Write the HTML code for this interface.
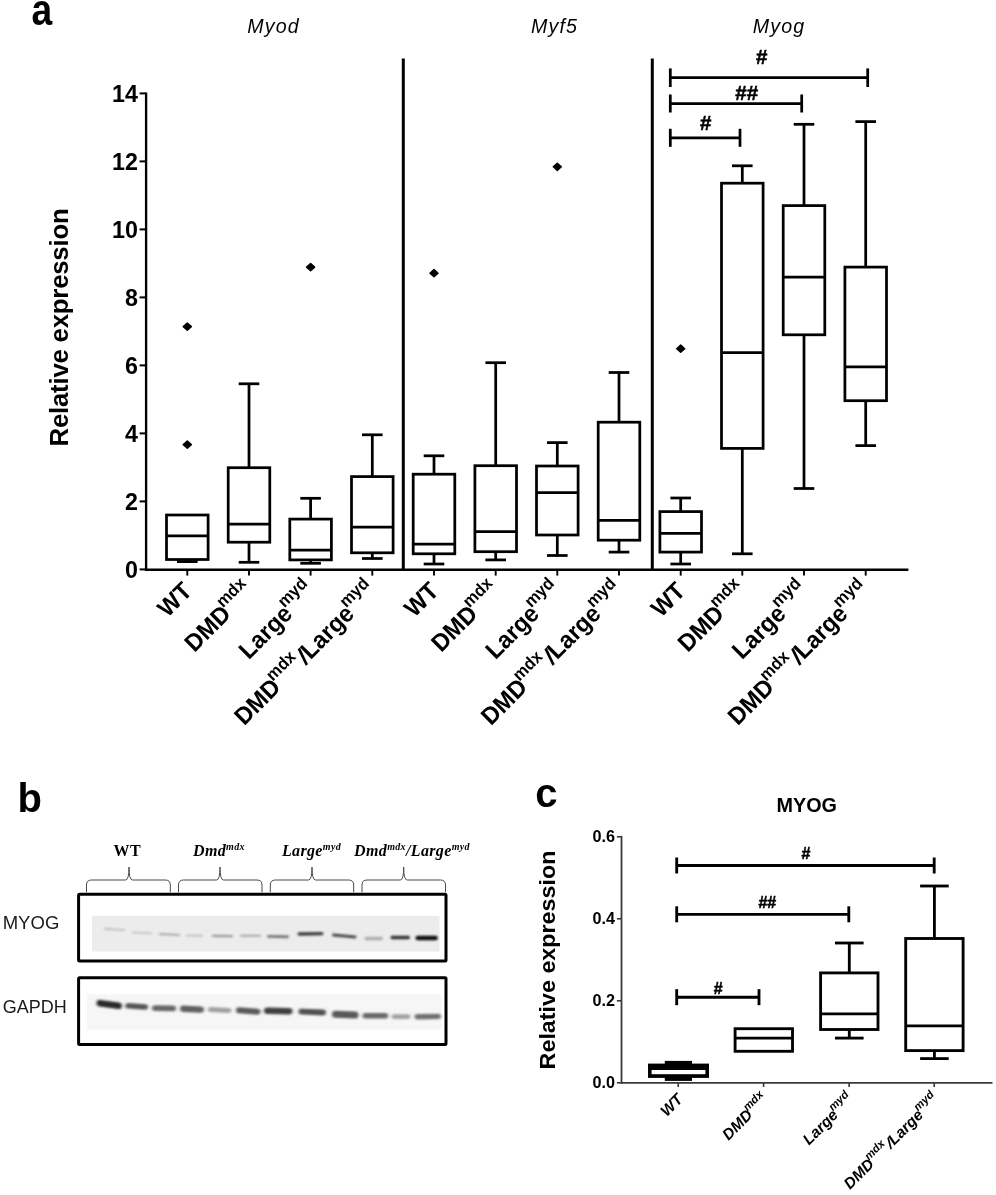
<!DOCTYPE html>
<html><head><meta charset="utf-8"><title>Figure</title>
<style>
html,body{margin:0;padding:0;background:#fff;}
body{width:996px;height:1195px;overflow:hidden;font-family:"Liberation Sans", sans-serif;}
svg{display:block;filter:blur(0.55px);}
</style></head><body>
<svg width="996" height="1195" viewBox="0 0 996 1195">
<rect width="996" height="1195" fill="#fff"/>
<g stroke="#000" stroke-width="2.75" fill="none" stroke-linecap="butt">
<line x1="146.1" y1="92.4" x2="146.1" y2="570.8" stroke-width="2.35"/>
<line x1="144.9" y1="569.7" x2="908.4" y2="569.7" stroke-width="2.35"/>
<line x1="139.6" y1="569.4" x2="146.1" y2="569.4" stroke-width="2.0"/>
<line x1="139.6" y1="501.4" x2="146.1" y2="501.4" stroke-width="2.0"/>
<line x1="139.6" y1="433.4" x2="146.1" y2="433.4" stroke-width="2.0"/>
<line x1="139.6" y1="365.4" x2="146.1" y2="365.4" stroke-width="2.0"/>
<line x1="139.6" y1="297.4" x2="146.1" y2="297.4" stroke-width="2.0"/>
<line x1="139.6" y1="229.4" x2="146.1" y2="229.4" stroke-width="2.0"/>
<line x1="139.6" y1="161.4" x2="146.1" y2="161.4" stroke-width="2.0"/>
<line x1="139.6" y1="93.4" x2="146.1" y2="93.4" stroke-width="2.0"/>
<line x1="187.3" y1="569.4" x2="187.3" y2="575.6" stroke-width="1.9"/>
<line x1="249.0" y1="569.4" x2="249.0" y2="575.6" stroke-width="1.9"/>
<line x1="310.6" y1="569.4" x2="310.6" y2="575.6" stroke-width="1.9"/>
<line x1="372.3" y1="569.4" x2="372.3" y2="575.6" stroke-width="1.9"/>
<line x1="434.0" y1="569.4" x2="434.0" y2="575.6" stroke-width="1.9"/>
<line x1="495.7" y1="569.4" x2="495.7" y2="575.6" stroke-width="1.9"/>
<line x1="557.3" y1="569.4" x2="557.3" y2="575.6" stroke-width="1.9"/>
<line x1="619.0" y1="569.4" x2="619.0" y2="575.6" stroke-width="1.9"/>
<line x1="680.7" y1="569.4" x2="680.7" y2="575.6" stroke-width="1.9"/>
<line x1="742.3" y1="569.4" x2="742.3" y2="575.6" stroke-width="1.9"/>
<line x1="804.0" y1="569.4" x2="804.0" y2="575.6" stroke-width="1.9"/>
<line x1="865.7" y1="569.4" x2="865.7" y2="575.6" stroke-width="1.9"/>
<line x1="403.3" y1="58.5" x2="403.3" y2="569.4" stroke-width="3.0"/>
<line x1="652.3" y1="58.5" x2="652.3" y2="569.4" stroke-width="3.0"/>
</g>
<g stroke="#000" stroke-width="2.75" fill="none">
<rect x="166.5" y="515.0" width="41.6" height="44.5"/>
<line x1="166.5" y1="535.9" x2="208.1" y2="535.9"/>
<line x1="187.3" y1="559.5" x2="187.3" y2="561.6"/>
<line x1="177.0" y1="561.6" x2="197.6" y2="561.6"/>
<rect x="228.2" y="467.7" width="41.6" height="74.5"/>
<line x1="228.2" y1="524.2" x2="269.8" y2="524.2"/>
<line x1="249.0" y1="542.2" x2="249.0" y2="562.3"/>
<line x1="238.7" y1="562.3" x2="259.3" y2="562.3"/>
<line x1="249.0" y1="467.7" x2="249.0" y2="383.8"/>
<line x1="238.7" y1="383.8" x2="259.3" y2="383.8"/>
<rect x="289.8" y="519.1" width="41.6" height="40.8"/>
<line x1="289.8" y1="550.0" x2="331.4" y2="550.0"/>
<line x1="310.6" y1="559.9" x2="310.6" y2="563.3"/>
<line x1="300.3" y1="563.3" x2="320.9" y2="563.3"/>
<line x1="310.6" y1="519.1" x2="310.6" y2="498.3"/>
<line x1="300.3" y1="498.3" x2="320.9" y2="498.3"/>
<rect x="351.5" y="476.6" width="41.6" height="76.2"/>
<line x1="351.5" y1="527.2" x2="393.1" y2="527.2"/>
<line x1="372.3" y1="552.7" x2="372.3" y2="558.5"/>
<line x1="362.0" y1="558.5" x2="382.6" y2="558.5"/>
<line x1="372.3" y1="476.6" x2="372.3" y2="434.8"/>
<line x1="362.0" y1="434.8" x2="382.6" y2="434.8"/>
<rect x="413.2" y="474.2" width="41.6" height="79.6"/>
<line x1="413.2" y1="544.2" x2="454.8" y2="544.2"/>
<line x1="434.0" y1="553.8" x2="434.0" y2="564.0"/>
<line x1="423.7" y1="564.0" x2="444.3" y2="564.0"/>
<line x1="434.0" y1="474.2" x2="434.0" y2="455.8"/>
<line x1="423.7" y1="455.8" x2="444.3" y2="455.8"/>
<rect x="474.9" y="465.7" width="41.6" height="86.0"/>
<line x1="474.9" y1="531.7" x2="516.5" y2="531.7"/>
<line x1="495.7" y1="551.7" x2="495.7" y2="559.9"/>
<line x1="485.4" y1="559.9" x2="506.0" y2="559.9"/>
<line x1="495.7" y1="465.7" x2="495.7" y2="362.7"/>
<line x1="485.4" y1="362.7" x2="506.0" y2="362.7"/>
<rect x="536.5" y="466.0" width="41.6" height="69.0"/>
<line x1="536.5" y1="492.6" x2="578.1" y2="492.6"/>
<line x1="557.3" y1="535.1" x2="557.3" y2="555.5"/>
<line x1="547.0" y1="555.5" x2="567.6" y2="555.5"/>
<line x1="557.3" y1="466.0" x2="557.3" y2="442.6"/>
<line x1="547.0" y1="442.6" x2="567.6" y2="442.6"/>
<rect x="598.2" y="422.2" width="41.6" height="118.0"/>
<line x1="598.2" y1="520.4" x2="639.8" y2="520.4"/>
<line x1="619.0" y1="540.2" x2="619.0" y2="552.1"/>
<line x1="608.7" y1="552.1" x2="629.3" y2="552.1"/>
<line x1="619.0" y1="422.2" x2="619.0" y2="372.5"/>
<line x1="608.7" y1="372.5" x2="629.3" y2="372.5"/>
<rect x="659.9" y="511.6" width="41.6" height="40.5"/>
<line x1="659.9" y1="533.4" x2="701.5" y2="533.4"/>
<line x1="680.7" y1="552.1" x2="680.7" y2="564.0"/>
<line x1="670.4" y1="564.0" x2="691.0" y2="564.0"/>
<line x1="680.7" y1="511.6" x2="680.7" y2="498.0"/>
<line x1="670.4" y1="498.0" x2="691.0" y2="498.0"/>
<rect x="721.5" y="183.2" width="41.6" height="265.2"/>
<line x1="721.5" y1="352.5" x2="763.1" y2="352.5"/>
<line x1="742.3" y1="448.4" x2="742.3" y2="553.8"/>
<line x1="732.0" y1="553.8" x2="752.6" y2="553.8"/>
<line x1="742.3" y1="183.2" x2="742.3" y2="165.8"/>
<line x1="732.0" y1="165.8" x2="752.6" y2="165.8"/>
<rect x="783.2" y="205.6" width="41.6" height="129.2"/>
<line x1="783.2" y1="277.0" x2="824.8" y2="277.0"/>
<line x1="804.0" y1="334.8" x2="804.0" y2="488.5"/>
<line x1="793.7" y1="488.5" x2="814.3" y2="488.5"/>
<line x1="804.0" y1="205.6" x2="804.0" y2="124.3"/>
<line x1="793.7" y1="124.3" x2="814.3" y2="124.3"/>
<rect x="844.9" y="267.1" width="41.6" height="133.6"/>
<line x1="844.9" y1="366.8" x2="886.5" y2="366.8"/>
<line x1="865.7" y1="400.8" x2="865.7" y2="445.6"/>
<line x1="855.4" y1="445.6" x2="876.0" y2="445.6"/>
<line x1="865.7" y1="267.1" x2="865.7" y2="121.6"/>
<line x1="855.4" y1="121.6" x2="876.0" y2="121.6"/>
</g>
<g fill="#000" stroke="#000" stroke-width="1.5" stroke-linejoin="round">
<path d="M183.3 444.6 L187.3 441.0 L191.3 444.6 L187.3 448.2Z"/>
<path d="M183.3 326.6 L187.3 323.0 L191.3 326.6 L187.3 330.2Z"/>
<path d="M306.6 267.1 L310.6 263.5 L314.6 267.1 L310.6 270.7Z"/>
<path d="M430.0 273.2 L434.0 269.6 L438.0 273.2 L434.0 276.8Z"/>
<path d="M553.3 166.8 L557.3 163.2 L561.3 166.8 L557.3 170.4Z"/>
<path d="M676.7 348.7 L680.7 345.1 L684.7 348.7 L680.7 352.3Z"/>
</g>
<g stroke="#000" stroke-width="2.75" fill="none">
<line x1="670.3" y1="77.7" x2="867.7" y2="77.7"/>
<line x1="670.3" y1="68.4" x2="670.3" y2="87.0"/>
<line x1="867.7" y1="68.4" x2="867.7" y2="87.0"/>
</g>
<text x="761.7" y="64.3" font-family='"Liberation Sans", sans-serif' font-weight="bold" font-size="20.5" text-anchor="middle" fill="#000" stroke="#000" stroke-width="0.5">#</text>
<g stroke="#000" stroke-width="2.75" fill="none">
<line x1="670.3" y1="103.5" x2="801.7" y2="103.5"/>
<line x1="670.3" y1="94.5" x2="670.3" y2="112.5"/>
<line x1="801.7" y1="94.5" x2="801.7" y2="112.5"/>
</g>
<text x="746.7" y="100.1" font-family='"Liberation Sans", sans-serif' font-weight="bold" font-size="20.5" text-anchor="middle" fill="#000" stroke="#000" stroke-width="0.5">##</text>
<g stroke="#000" stroke-width="2.75" fill="none">
<line x1="670.3" y1="137.8" x2="740.0" y2="137.8"/>
<line x1="670.3" y1="128.8" x2="670.3" y2="146.8"/>
<line x1="740.0" y1="128.8" x2="740.0" y2="146.8"/>
</g>
<text x="705.7" y="129.6" font-family='"Liberation Sans", sans-serif' font-weight="bold" font-size="20.5" text-anchor="middle" fill="#000" stroke="#000" stroke-width="0.5">#</text>
<text transform="translate(137.9,578.0) scale(0.955,1)" font-family='"Liberation Sans", sans-serif' font-weight="bold" font-size="24.4" text-anchor="end" fill="#000">0</text>
<text transform="translate(137.9,510.0) scale(0.955,1)" font-family='"Liberation Sans", sans-serif' font-weight="bold" font-size="24.4" text-anchor="end" fill="#000">2</text>
<text transform="translate(137.9,442.0) scale(0.955,1)" font-family='"Liberation Sans", sans-serif' font-weight="bold" font-size="24.4" text-anchor="end" fill="#000">4</text>
<text transform="translate(137.9,374.0) scale(0.955,1)" font-family='"Liberation Sans", sans-serif' font-weight="bold" font-size="24.4" text-anchor="end" fill="#000">6</text>
<text transform="translate(137.9,306.0) scale(0.955,1)" font-family='"Liberation Sans", sans-serif' font-weight="bold" font-size="24.4" text-anchor="end" fill="#000">8</text>
<text transform="translate(137.9,238.0) scale(0.955,1)" font-family='"Liberation Sans", sans-serif' font-weight="bold" font-size="24.4" text-anchor="end" fill="#000">10</text>
<text transform="translate(137.9,170.0) scale(0.955,1)" font-family='"Liberation Sans", sans-serif' font-weight="bold" font-size="24.4" text-anchor="end" fill="#000">12</text>
<text transform="translate(137.9,102.0) scale(0.955,1)" font-family='"Liberation Sans", sans-serif' font-weight="bold" font-size="24.4" text-anchor="end" fill="#000">14</text>
<text transform="translate(67.9,327.5) rotate(-90)" font-family='"Liberation Sans", sans-serif' font-weight="bold" font-size="25.8" letter-spacing="-0.23" text-anchor="middle" fill="#000">Relative expression</text>
<text x="273.5" y="32.7" font-family='"Liberation Sans", sans-serif' font-style="italic" font-size="19.6" letter-spacing="1.1" text-anchor="middle" fill="#000">Myod</text>
<text x="554.5" y="32.7" font-family='"Liberation Sans", sans-serif' font-style="italic" font-size="19.6" letter-spacing="1.1" text-anchor="middle" fill="#000">Myf5</text>
<text x="779" y="32.7" font-family='"Liberation Sans", sans-serif' font-style="italic" font-size="19.6" letter-spacing="1.1" text-anchor="middle" fill="#000">Myog</text>
<text transform="translate(31.4,25.1) scale(0.93,1.09)" font-family='"Liberation Sans", sans-serif' font-weight="bold" font-size="40" fill="#000">a</text>
<text x="17.5" y="812.3" font-family='"Liberation Sans", sans-serif' font-weight="bold" font-size="40" fill="#000">b</text>
<text x="535.3" y="806.5" font-family='"Liberation Sans", sans-serif' font-weight="bold" font-size="40" fill="#000">c</text>
<text transform="translate(193.3,592.4) rotate(-45) scale(0.96,1)" font-family='"Liberation Sans", sans-serif' font-weight="bold" font-size="24.4" text-anchor="end" fill="#000">WT</text>
<text transform="translate(255.0,592.4) rotate(-45) scale(0.96,1)" font-family='"Liberation Sans", sans-serif' font-weight="bold" font-size="24.4" text-anchor="end" fill="#000">DMD<tspan dy="-11.5" dx="-1.7" font-size="17.2">mdx</tspan></text>
<text transform="translate(316.6,592.4) rotate(-45) scale(0.96,1)" font-family='"Liberation Sans", sans-serif' font-weight="bold" font-size="24.4" text-anchor="end" fill="#000">Large<tspan dy="-11.5" dx="-1.7" font-size="17.2">myd</tspan></text>
<text transform="translate(378.3,592.4) rotate(-45) scale(0.96,1)" font-family='"Liberation Sans", sans-serif' font-weight="bold" font-size="24.4" text-anchor="end" fill="#000">DMD<tspan dy="-11.5" dx="-1.7" font-size="17.2">mdx</tspan><tspan dy="11.5" dx="0.5" rotate="9">/</tspan><tspan dx="0.8">Large</tspan><tspan dy="-11.5" dx="-1.7" font-size="17.2">myd</tspan></text>
<text transform="translate(440.0,592.4) rotate(-45) scale(0.96,1)" font-family='"Liberation Sans", sans-serif' font-weight="bold" font-size="24.4" text-anchor="end" fill="#000">WT</text>
<text transform="translate(501.7,592.4) rotate(-45) scale(0.96,1)" font-family='"Liberation Sans", sans-serif' font-weight="bold" font-size="24.4" text-anchor="end" fill="#000">DMD<tspan dy="-11.5" dx="-1.7" font-size="17.2">mdx</tspan></text>
<text transform="translate(563.3,592.4) rotate(-45) scale(0.96,1)" font-family='"Liberation Sans", sans-serif' font-weight="bold" font-size="24.4" text-anchor="end" fill="#000">Large<tspan dy="-11.5" dx="-1.7" font-size="17.2">myd</tspan></text>
<text transform="translate(625.0,592.4) rotate(-45) scale(0.96,1)" font-family='"Liberation Sans", sans-serif' font-weight="bold" font-size="24.4" text-anchor="end" fill="#000">DMD<tspan dy="-11.5" dx="-1.7" font-size="17.2">mdx</tspan><tspan dy="11.5" dx="0.5" rotate="9">/</tspan><tspan dx="0.8">Large</tspan><tspan dy="-11.5" dx="-1.7" font-size="17.2">myd</tspan></text>
<text transform="translate(686.7,592.4) rotate(-45) scale(0.96,1)" font-family='"Liberation Sans", sans-serif' font-weight="bold" font-size="24.4" text-anchor="end" fill="#000">WT</text>
<text transform="translate(748.3,592.4) rotate(-45) scale(0.96,1)" font-family='"Liberation Sans", sans-serif' font-weight="bold" font-size="24.4" text-anchor="end" fill="#000">DMD<tspan dy="-11.5" dx="-1.7" font-size="17.2">mdx</tspan></text>
<text transform="translate(810.0,592.4) rotate(-45) scale(0.96,1)" font-family='"Liberation Sans", sans-serif' font-weight="bold" font-size="24.4" text-anchor="end" fill="#000">Large<tspan dy="-11.5" dx="-1.7" font-size="17.2">myd</tspan></text>
<text transform="translate(871.7,592.4) rotate(-45) scale(0.96,1)" font-family='"Liberation Sans", sans-serif' font-weight="bold" font-size="24.4" text-anchor="end" fill="#000">DMD<tspan dy="-11.5" dx="-1.7" font-size="17.2">mdx</tspan><tspan dy="11.5" dx="0.5" rotate="9">/</tspan><tspan dx="0.8">Large</tspan><tspan dy="-11.5" dx="-1.7" font-size="17.2">myd</tspan></text>
<g stroke="#3a3a3a" stroke-width="1.8" fill="none">
<line x1="621.5" y1="835.9" x2="621.5" y2="1083.7"/>
<line x1="620.6" y1="1082.8" x2="992.5" y2="1082.8"/>
<line x1="616.9" y1="1082.8" x2="621.5" y2="1082.8" stroke-width="1.6"/>
<line x1="616.9" y1="1000.8" x2="621.5" y2="1000.8" stroke-width="1.6"/>
<line x1="616.9" y1="918.8" x2="621.5" y2="918.8" stroke-width="1.6"/>
<line x1="616.9" y1="836.8" x2="621.5" y2="836.8" stroke-width="1.6"/>
<line x1="678.2" y1="1082.8" x2="678.2" y2="1087.0" stroke-width="1.6"/>
<line x1="763.6" y1="1082.8" x2="763.6" y2="1087.0" stroke-width="1.6"/>
<line x1="849.1" y1="1082.8" x2="849.1" y2="1087.0" stroke-width="1.6"/>
<line x1="934.2" y1="1082.8" x2="934.2" y2="1087.0" stroke-width="1.6"/>
</g>
<g stroke="#000" stroke-width="2.85" fill="none">
<rect x="735.1" y="1028.7" width="57.4" height="22.6"/>
<line x1="735.1" y1="1038.1" x2="792.5" y2="1038.1"/>
<rect x="820.6" y="972.9" width="57.4" height="56.6"/>
<line x1="820.6" y1="1013.9" x2="878.0" y2="1013.9"/>
<line x1="849.3" y1="1029.5" x2="849.3" y2="1038.1"/>
<line x1="835.0" y1="1038.1" x2="863.6" y2="1038.1"/>
<line x1="849.3" y1="972.9" x2="849.3" y2="943.0"/>
<line x1="835.0" y1="943.0" x2="863.6" y2="943.0"/>
<rect x="905.7" y="938.5" width="57.4" height="112.1"/>
<line x1="905.7" y1="1025.8" x2="963.1" y2="1025.8"/>
<line x1="934.4" y1="1050.6" x2="934.4" y2="1058.6"/>
<line x1="920.1" y1="1058.6" x2="948.7" y2="1058.6"/>
<line x1="934.4" y1="938.5" x2="934.4" y2="886.0"/>
<line x1="920.1" y1="886.0" x2="948.7" y2="886.0"/>
</g>
<rect x="648" y="1063.6" width="61" height="14.3" fill="#000"/>
<rect x="664.8" y="1060.9" width="27.2" height="20" fill="#000"/>
<rect x="651.6" y="1070" width="53.8" height="4.2" fill="#fff"/>
<g stroke="#000" stroke-width="2.85" fill="none">
<line x1="676.7" y1="865.5" x2="934.2" y2="865.5"/>
<line x1="676.7" y1="857.5" x2="676.7" y2="873.5"/>
<line x1="934.2" y1="857.5" x2="934.2" y2="873.5"/>
</g>
<text x="806" y="858.8" font-family='"Liberation Sans", sans-serif' font-weight="bold" font-size="16" text-anchor="middle" fill="#000" stroke="#000" stroke-width="0.5">#</text>
<g stroke="#000" stroke-width="2.85" fill="none">
<line x1="676.7" y1="914.3" x2="848.8" y2="914.3"/>
<line x1="676.7" y1="906.3" x2="676.7" y2="922.3"/>
<line x1="848.8" y1="906.3" x2="848.8" y2="922.3"/>
</g>
<text x="767.3" y="907.6" font-family='"Liberation Sans", sans-serif' font-weight="bold" font-size="16" text-anchor="middle" fill="#000" stroke="#000" stroke-width="0.5">##</text>
<g stroke="#000" stroke-width="2.85" fill="none">
<line x1="676.7" y1="997.2" x2="759.0" y2="997.2"/>
<line x1="676.7" y1="989.2" x2="676.7" y2="1005.2"/>
<line x1="759.0" y1="989.2" x2="759.0" y2="1005.2"/>
</g>
<text x="718.3" y="993.6" font-family='"Liberation Sans", sans-serif' font-weight="bold" font-size="16" text-anchor="middle" fill="#000" stroke="#000" stroke-width="0.5">#</text>
<text x="615.1" y="1088.4" font-family='"Liberation Sans", sans-serif' font-weight="bold" font-size="16.2" text-anchor="end" fill="#000">0.0</text>
<text x="615.1" y="1006.4" font-family='"Liberation Sans", sans-serif' font-weight="bold" font-size="16.2" text-anchor="end" fill="#000">0.2</text>
<text x="615.1" y="924.4" font-family='"Liberation Sans", sans-serif' font-weight="bold" font-size="16.2" text-anchor="end" fill="#000">0.4</text>
<text x="615.1" y="842.4" font-family='"Liberation Sans", sans-serif' font-weight="bold" font-size="16.2" text-anchor="end" fill="#000">0.6</text>
<text transform="translate(555.2,960) rotate(-90) scale(1.04,1)" font-family='"Liberation Sans", sans-serif' font-weight="bold" font-size="22.4" text-anchor="middle" fill="#000">Relative expression</text>
<text x="806.8" y="811.9" font-family='"Liberation Sans", sans-serif' font-weight="bold" font-size="19.8" text-anchor="middle" fill="#000">MYOG</text>
<text transform="translate(683.7,1100.3) rotate(-45) scale(1,1)" font-family='"Liberation Sans", sans-serif' font-weight="bold" font-size="15.5" font-style="italic" text-anchor="end" fill="#000">WT</text>
<text transform="translate(769.1,1100.3) rotate(-45) scale(1,1)" font-family='"Liberation Sans", sans-serif' font-weight="bold" font-size="15.5" font-style="italic" text-anchor="end" fill="#000">DMD<tspan dy="-7.3" dx="-1.1" font-size="11.3" font-style="italic">mdx</tspan></text>
<text transform="translate(854.6,1100.3) rotate(-45) scale(1,1)" font-family='"Liberation Sans", sans-serif' font-weight="bold" font-size="15.5" font-style="italic" text-anchor="end" fill="#000">Large<tspan dy="-7.3" dx="-1.1" font-size="11.3" font-style="italic">myd</tspan></text>
<text transform="translate(939.7,1100.3) rotate(-45) scale(1,1)" font-family='"Liberation Sans", sans-serif' font-weight="bold" font-size="15.5" font-style="italic" text-anchor="end" fill="#000">DMD<tspan dy="-7.3" dx="-1.1" font-size="11.3" font-style="italic">mdx</tspan><tspan dy="7.3" dx="0.3" rotate="9">/</tspan><tspan dx="0.5">Large</tspan><tspan dy="-7.3" dx="-1.1" font-size="11.3" font-style="italic">myd</tspan></text>
<g stroke="#000" stroke-width="3.0" fill="#fff">
<rect x="78.6" y="894.2" width="367.4" height="66.9" rx="1"/>
<rect x="78.6" y="977.8" width="367.4" height="66.7" rx="1"/>
</g>
<rect x="92" y="915.8" width="347.5" height="35.7" fill="#ececec"/>
<rect x="87" y="994.3" width="354.4" height="35.3" fill="#f6f6f6"/>
<defs><filter id="bl" x="-20%" y="-150%" width="140%" height="400%"><feGaussianBlur stdDeviation="1.7 1.2"/></filter><filter id="bl2" x="-20%" y="-150%" width="140%" height="400%"><feGaussianBlur stdDeviation="1.3 0.9"/></filter></defs>
<g filter="url(#bl2)">
<rect x="104" y="928.5" width="21.0" height="1.8" rx="0.9" fill="rgb(190,190,190)" transform="rotate(4 114.5 929.4)"/>
<rect x="132" y="931.9" width="20.0" height="1.8" rx="0.9" fill="rgb(194,194,194)" transform="rotate(3 142.0 932.8)"/>
<rect x="159" y="933.6" width="21.0" height="2.0" rx="1.0" fill="rgb(168,168,168)" transform="rotate(3 169.5 934.6)"/>
<rect x="186" y="934.8" width="17.0" height="1.8" rx="0.9" fill="rgb(188,188,188)" transform="rotate(0 194.5 935.7)"/>
<rect x="212" y="934.9" width="21.0" height="2.2" rx="1.1" fill="rgb(152,152,152)" transform="rotate(1 222.5 936.0)"/>
<rect x="240" y="934.7" width="21.0" height="2.0" rx="1.0" fill="rgb(166,166,166)" transform="rotate(0 250.5 935.7)"/>
<rect x="267" y="935.2" width="22.0" height="2.8" rx="1.4" fill="rgb(122,122,122)" transform="rotate(1 278.0 936.6)"/>
<rect x="297.5" y="932.1" width="26.0" height="3.4" rx="1.7" fill="rgb(60,60,60)" transform="rotate(-1 310.5 933.8)"/>
<rect x="332" y="934.5" width="24.5" height="3.0" rx="1.5" fill="rgb(76,76,76)" transform="rotate(5 344.2 936.0)"/>
<rect x="364.5" y="936.8" width="18.5" height="3.4" rx="1.7" fill="rgb(174,174,174)" transform="rotate(0 373.8 938.5)"/>
<rect x="390.5" y="935.8" width="19.5" height="3.4" rx="1.7" fill="rgb(48,48,48)" transform="rotate(0 400.2 937.5)"/>
<rect x="415.5" y="935.8" width="22.3" height="4.4" rx="2.2" fill="rgb(12,12,12)" transform="rotate(0 426.6 938.0)"/>
</g>
<g filter="url(#bl)">
<rect x="96.5" y="1001.2" width="25.5" height="6.6" rx="3.3" fill="rgb(42,42,42)" transform="rotate(8 109.2 1004.5)"/>
<rect x="125.2" y="1003.6" width="22.8" height="5.6" rx="2.8" fill="rgb(85,85,85)" transform="rotate(4 136.6 1006.4)"/>
<rect x="152" y="1005.3" width="24.0" height="5.8" rx="2.9" fill="rgb(104,104,104)" transform="rotate(1 164.0 1008.2)"/>
<rect x="180" y="1006.0" width="24.0" height="6.4" rx="3.2" fill="rgb(96,96,96)" transform="rotate(3 192.0 1009.2)"/>
<rect x="208" y="1007.4" width="23.5" height="5.2" rx="2.6" fill="rgb(160,160,160)" transform="rotate(3 219.8 1010)"/>
<rect x="236" y="1008.0" width="24.5" height="6.0" rx="3.0" fill="rgb(90,90,90)" transform="rotate(4 248.2 1011)"/>
<rect x="264" y="1007.8" width="28.5" height="6.4" rx="3.2" fill="rgb(64,64,64)" transform="rotate(1 278.2 1011)"/>
<rect x="298.5" y="1009.0" width="27.5" height="6.0" rx="3.0" fill="rgb(80,80,80)" transform="rotate(2 312.2 1012)"/>
<rect x="332" y="1011.2" width="26.5" height="7.0" rx="3.5" fill="rgb(88,88,88)" transform="rotate(2 345.2 1014.7)"/>
<rect x="362.5" y="1012.9" width="25.7" height="5.6" rx="2.8" fill="rgb(104,104,104)" transform="rotate(0 375.4 1015.7)"/>
<rect x="391.5" y="1014.2" width="19.0" height="4.8" rx="2.4" fill="rgb(162,162,162)" transform="rotate(0 401.0 1016.6)"/>
<rect x="414.6" y="1013.9" width="26.4" height="5.4" rx="2.7" fill="rgb(112,112,112)" transform="rotate(-1 427.8 1016.6)"/>
</g>
<text x="2.7" y="929.4" font-family='"Liberation Sans", sans-serif' font-size="17.6" fill="#1a1a1a" textLength="56.6" lengthAdjust="spacingAndGlyphs">MYOG</text>
<text x="2.7" y="1013.4" font-family='"Liberation Sans", sans-serif' font-size="17.6" fill="#1a1a1a" textLength="64" lengthAdjust="spacingAndGlyphs">GAPDH</text>
<path d="M86.5 892.3 L86.5 885 Q86.5 880 91.5 880 L125.5 880 Q129 880 129 867 Q129 880 132.5 880 L165.3 880 Q170.3 880 170.3 885 L170.3 892.3" stroke="#4a4a4a" stroke-width="1" fill="none"/>
<path d="M178.5 892.3 L178.5 885 Q178.5 880 183.5 880 L216.5 880 Q220 880 220 867 Q220 880 223.5 880 L257 880 Q262 880 262 885 L262 892.3" stroke="#4a4a4a" stroke-width="1" fill="none"/>
<path d="M270.3 892.3 L270.3 885 Q270.3 880 275.3 880 L308.5 880 Q312 880 312 867 Q312 880 315.5 880 L348.7 880 Q353.7 880 353.7 885 L353.7 892.3" stroke="#4a4a4a" stroke-width="1" fill="none"/>
<path d="M362 892.3 L362 885 Q362 880 367 880 L400.2 880 Q403.7 880 403.7 867 Q403.7 880 407.2 880 L440.5 880 Q445.5 880 445.5 885 L445.5 892.3" stroke="#4a4a4a" stroke-width="1" fill="none"/>
<text x="127.3" y="856.2" font-family='"Liberation Serif", serif' font-weight="bold" font-size="16" letter-spacing="0.35" fill="#000" text-anchor="middle">WT</text>
<text x="219" y="856.2" font-family='"Liberation Serif", serif' font-weight="bold" font-size="16" letter-spacing="0.35" fill="#000" font-style="italic" text-anchor="middle">Dmd<tspan dy="-6" font-size="10">mdx</tspan></text>
<text x="311.5" y="856.2" font-family='"Liberation Serif", serif' font-weight="bold" font-size="16" letter-spacing="0.35" fill="#000" font-style="italic" text-anchor="middle">Large<tspan dy="-6" font-size="10">myd</tspan></text>
<text x="412" y="856.2" font-family='"Liberation Serif", serif' font-weight="bold" font-size="16" letter-spacing="0.35" fill="#000" font-style="italic" text-anchor="middle">Dmd<tspan dy="-6" font-size="10">mdx</tspan><tspan dy="6">/Large</tspan><tspan dy="-6" font-size="10">myd</tspan></text>
</svg>
</body></html>
